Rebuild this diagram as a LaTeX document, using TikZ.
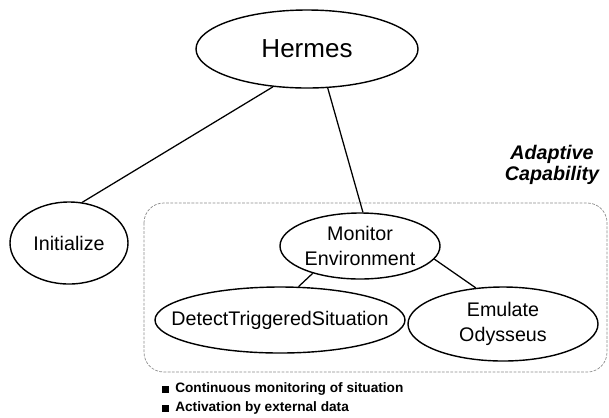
\documentclass[tikz,border=0pt]{standalone}
\usepackage{fontspec}
\setmainfont{Liberation Sans}
\usetikzlibrary{shapes.geometric}
\definecolor{frame}{HTML}{8C8C8C}

\begin{document}
\begin{tikzpicture}[x=0.025cm,y=-0.025cm,
    tasktext/.style={font=\fontsize{14}{17.5}\selectfont,align=center,inner sep=0pt},
    task/.style={ellipse,draw,line width=1pt,inner sep=0pt,label={[tasktext]center:#1}},
    ellsize/.style 2 args={minimum width=#1*0.025cm,minimum height=#2*0.025cm},
    link/.style={line width=0.9pt}]
  \useasboundingbox (0,0) rectangle (609,417);
  % capability frame
  \draw[frame,line width=0.5pt,dash pattern=on 2pt off 1pt,rounded corners=14pt] (144,203) rectangle (607,372);
  \node[font=\fontsize{14}{14.5}\selectfont\bfseries\itshape,align=center] (cap) at (552,165) {Adaptive\\Capability};
  % task tree
  \node[ellipse,draw,line width=1pt,ellsize={222}{78},font=\fontsize{18.5}{20}\selectfont] (hermes) at (307,49) {Hermes};
  \node[task=Initialize,ellsize={118}{82}] (init) at (69,243) {};
  \node[task={Monitor\\Environment},ellsize={160}{66}] (monitor) at (360,246) {};
  \node[task=DetectTriggeredSituation,ellsize={250}{66}] (detect) at (280,320) {};
  \node[task={Emulate\\Odysseus},ellsize={190}{74}] (emulate) at (503,324) {};
  \draw[link] (hermes.228) -- (init.72);
  \draw[link] (hermes.298) -- (monitor.85);
  \draw[link] (monitor.210) -- (detect.61);
  \draw[link] (monitor.350) -- (emulate.127);
  % notes
  \foreach \y/\txt [count=\i] in {389/Continuous monitoring of situation,408/Activation by external data}{
    \fill (162,\y-3.5) rectangle (169,\y+3.5);
    \node[anchor=west,inner sep=0pt,font=\fontsize{9.7}{11}\selectfont\bfseries] (note\i) at (175,\y) {\txt};}
\end{tikzpicture}
\end{document}
